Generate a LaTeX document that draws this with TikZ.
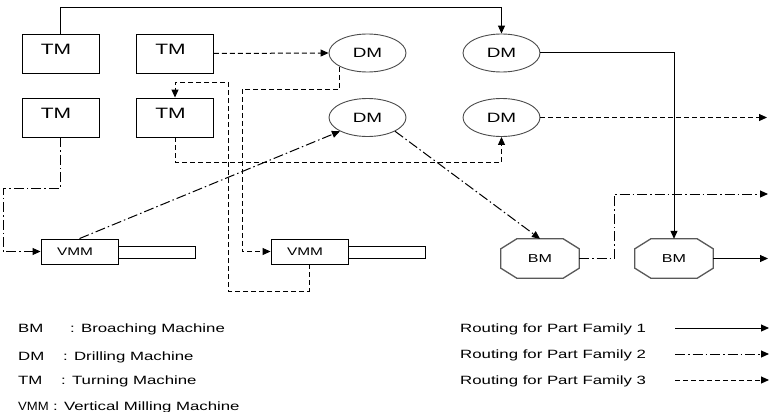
\documentclass[tikz,border=0pt]{standalone}
\usepackage{fontspec}
\setmainfont[FakeStretch=1.4]{Liberation Sans}
\usetikzlibrary{arrows.meta,shapes.geometric}
\newcommand{\tmtext}{\hspace*{-9pt}\raisebox{4.5pt}[\height][\depth]{TM}}
\begin{document}
\begin{tikzpicture}[x=1pt,y=-1pt,
 box/.style={draw,line width=0.9pt,minimum width=77pt,minimum height=39pt,inner sep=0pt,font=\fontsize{15}{15}\selectfont},
 dmnode/.style={draw=black!70,ellipse,line width=0.9pt,minimum width=77pt,minimum height=38pt,inner sep=0pt,font=\fontsize{13.5}{13.5}\selectfont},
 vmmbox/.style={draw,line width=0.9pt,minimum width=77pt,minimum height=25pt,inner sep=0pt,font=\fontsize{11}{11}\selectfont},
 tailbox/.style={draw,line width=0.9pt,minimum width=77pt,minimum height=12pt,inner sep=0pt},
 bmnode/.style={minimum width=78pt,minimum height=39pt,inner sep=0pt,font=\fontsize{11.5}{11.5}\selectfont},
 octo/.style={draw=black!65,line width=1.3pt},
 tip/.style={-{Triangle[length=8pt,width=7pt]}},
 fam1/.style={tip,line width=1pt},
 fam2/.style={tip,line width=1pt,dash pattern=on 10pt off 3pt on 1.5pt off 3pt},
 fam3/.style={tip,line width=1pt,dash pattern=on 5pt off 3pt},
 legtext/.style={anchor=base west,inner sep=0pt,font=\fontsize{12}{12}\selectfont}
]
\useasboundingbox[fill=white] (0,0) rectangle (776,412);

% machines
\node[box] (tm1) at (60.5,53.5) {\tmtext};
\node[box] (tm2) at (175,53.5) {\tmtext};
\node[box] (tm3) at (60.5,117.5) {\tmtext};
\node[box] (tm4) at (175,117.5) {\tmtext};

\node[dmnode] (dm1) at (367.5,53) {DM};
\node[dmnode] (dm2) at (501.5,53) {DM};
\node[dmnode] (dm3) at (367.5,117.5) {DM};
\node[dmnode] (dm4) at (501.5,117.5) {DM};

\node[tailbox] (vmm1t) at (156.5,252) {};
\node[tailbox] (vmm2t) at (386.5,252) {};
\node[vmmbox,fill=white] (vmm1) at (79.5,251.5) {\hspace*{-9pt}VMM};
\node[vmmbox,fill=white] (vmm2) at (309.5,251.5) {\hspace*{-9pt}VMM};

\node[bmnode] (bm1) at (540,258.5) {BM};
\node[bmnode] (bm2) at (674,258.5) {BM};
\foreach \b in {bm1,bm2}{
 \draw[octo] ([xshift=16pt]\b.north west) -- ([xshift=-16pt]\b.north east)
   -- ([yshift=-10pt]\b.north east) -- ([yshift=10pt]\b.south east)
   -- ([xshift=-16pt]\b.south east) -- ([xshift=16pt]\b.south west)
   -- ([yshift=10pt]\b.south west) -- ([yshift=-10pt]\b.north west) -- cycle;
}

% helper coordinates
\coordinate (b1) at (242,89);
\coordinate (b2) at (228,291);
\coordinate (b3) at (228,82);
\coordinate (b5) at (3,188);
\coordinate (o1) at (768,258.5);
\coordinate (o2) at (767,117.5);
\coordinate (o3) at (768,194);

% family 1
\draw[fam1] (tm1.north) -- ++(0,-26) -| (dm2.north);
\draw[fam1] (dm2.east) -| (bm2.north);
\draw[fam1] (bm2.east) -- (o1);

% family 2
\draw[fam2] (tm3.south) |- (b5) |- (vmm1.west);
\draw[fam2] (vmm1.north) -- (dm3.south west);
\draw[fam2] (dm3.south east) -- (bm1.north);
\draw[fam2] (bm1.east) -- ++(35,0) |- (o3);

% family 3
\draw[fam3] (tm2.east) -- (dm1.west);
\draw[fam3] (dm1.south west) |- (b1) |- (vmm2.west);
\draw[fam3] (vmm2.south) |- (b2) -- (b3) -| (tm4.north);
\draw[fam3] (tm4.south) -- ++(0,25) -| (dm4.south);
\draw[fam3] (dm4.east) -- (o2);

% legend (abbreviations)
\node[legtext] (k1) at (18,332) {BM};
\node[legtext] (d1) at (70,332) {: Broaching Machine};
\node[legtext] (k2) at (18,360) {DM};
\node[legtext] (d2) at (63,360) {: Drilling Machine};
\node[legtext] (k3) at (18,384) {TM};
\node[legtext] (d3) at (61,384) {: Turning Machine};
\node[legtext] (k4) at (18,410) {\scalebox{0.78}[1]{VMM}};
\node[legtext] (d4) at (53,410) {: Vertical Milling Machine};

% legend (routings)
\node[legtext] (r1) at (460,332) {Routing for Part Family 1};
\node[legtext] (r2) at (460,358) {Routing for Part Family 2};
\node[legtext] (r3) at (460,384) {Routing for Part Family 3};
\coordinate (l1a) at (675,328); \coordinate (l1b) at (769,328);
\coordinate (l2a) at (675,354); \coordinate (l2b) at (769,354);
\coordinate (l3a) at (675,380); \coordinate (l3b) at (769,380);
\draw[fam1] (l1a) -- (l1b);
\draw[fam2] (l2a) -- (l2b);
\draw[fam3] (l3a) -- (l3b);
\end{tikzpicture}
\end{document}
